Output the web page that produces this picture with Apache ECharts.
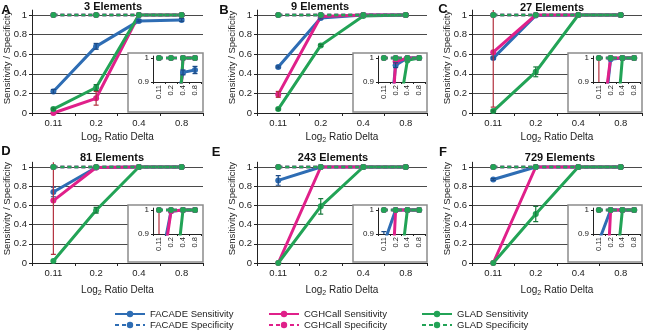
<!DOCTYPE html>
<html lang="en">
<head>
<meta charset="utf-8">
<title>Sensitivity / Specificity</title>
<script src="https://cdn.jsdelivr.net/npm/echarts@6/dist/echarts.min.js"></script>
</head>
<body style="margin:0;background:#fff;">
<div id="main" style="width:649px;height:330px;"></div>
<script type="text/javascript">
// categories and panel texts
const deltas = ['0.11', '0.2', '0.4', '0.8'];
const panelLetters = ['A', 'B', 'C', 'D', 'E', 'F'];
const panelTitles = ['3 Elements', '9 Elements', '27 Elements', '81 Elements', '243 Elements', '729 Elements'];

// sensitivity, one row per panel A..F
const facadeSens = [
    [0.22, 0.68, 0.94, 0.95],
    [0.47, 0.97, 1.0, 1.0],
    [0.56, 0.995, 1.0, 1.0],
    [0.74, 0.995, 1.0, 1.0],
    [0.86, 1.0, 1.0, 1.0],
    [0.87, 1.0, 1.0, 1.0]
];
const facadeSensErr = [
    [0.02, 0.03, 0.01, 0.015],
    [0.01, 0.01, 0, 0],
    [0.01, 0, 0, 0],
    [0.05, 0, 0, 0],
    [0.05, 0, 0, 0],
    [0.01, 0, 0, 0]
];
const cghcallSens = [
    [0.0, 0.15, 1.0, 1.0],
    [0.19, 0.985, 1.0, 1.0],
    [0.62, 1.0, 1.0, 1.0],
    [0.65, 0.995, 1.0, 1.0],
    [0.0, 1.0, 1.0, 1.0],
    [0.0, 1.0, 1.0, 1.0]
];
const cghcallSensErr = [
    [0, 0.07, 0, 0],
    [0.03, 0, 0, 0],
    [0.56, 0, 0, 0],
    [0.56, 0, 0, 0],
    [0, 0, 0, 0],
    [0, 0, 0, 0]
];
const gladSens = [
    [0.04, 0.26, 1.0, 1.0],
    [0.04, 0.69, 0.99, 1.0],
    [0.02, 0.42, 1.0, 1.0],
    [0.02, 0.55, 1.0, 1.0],
    [0.0, 0.59, 1.0, 1.0],
    [0.0, 0.51, 1.0, 1.0]
];
const gladSensErr = [
    [0.01, 0.03, 0, 0],
    [0.01, 0.01, 0, 0],
    [0.01, 0.05, 0, 0],
    [0, 0.03, 0, 0],
    [0, 0.08, 0, 0],
    [0, 0.08, 0, 0]
];

// specificity, one row per panel A..F
const facadeSpec = [
    [1, 1, 1, 1], [1, 1, 1, 1], [1, 1, 1, 1], [1, 1, 1, 1], [1, 1, 1, 1], [1, 1, 1, 1]
];
const cghcallSpec = [
    [1, 1, 1, 1], [1, 1, 1, 1], [1, 1, 1, 1], [1, 1, 1, 1], [1, 1, 1, 1], [1, 1, 1, 1]
];
const gladSpec = [
    [1, 1, 1, 1], [1, 1, 1, 1], [1, 1, 1, 1], [1, 1, 1, 1], [1, 1, 1, 1], [1, 1, 1, 1]
];

const methods = [
    {key: 'FACADE', color: '#2e6db4', errColor: '#1b4a86', sens: facadeSens, err: facadeSensErr, spec: facadeSpec},
    {key: 'CGHCall', color: '#e0208a', errColor: '#b3303e', sens: cghcallSens, err: cghcallSensErr, spec: cghcallSpec},
    {key: 'GLAD', color: '#22a356', errColor: '#17793b', sens: gladSens, err: gladSensErr, spec: gladSpec}
];

// layout of the 3x2 panels: y-axis x, right end / y of value 1, y of value 0
const cols = [[32, 203], [257, 427], [472, 642]];
const rows = [[15, 113], [167, 263]];
const letterPos = [[6, 10], [224, 10], [443, 9], [6, 151], [216, 152], [443, 152]];
const titlePos = [[113, 7], [320, 7], [552, 8], [112, 158], [333, 158], [560, 158]];

const font = 'Liberation Sans, Arial, sans-serif';

function errorBar(color) {
    return function (params, api) {
        const i = api.value(0), v = api.value(1), e = api.value(2);
        const lo = api.coord([i, v - e]);
        const hi = api.coord([i, v + e]);
        const cap = 2.5;
        const st = {stroke: color, lineWidth: 1.2};
        return {
            type: 'group',
            children: [
                {type: 'line', shape: {x1: lo[0], y1: lo[1], x2: hi[0], y2: hi[1]}, style: st},
                {type: 'line', shape: {x1: lo[0] - cap, y1: lo[1], x2: lo[0] + cap, y2: lo[1]}, style: st},
                {type: 'line', shape: {x1: hi[0] - cap, y1: hi[1], x2: hi[0] + cap, y2: hi[1]}, style: st}
            ]
        };
    };
}

const grids = [], xAxes = [], yAxes = [], series = [], graphics = [];

for (let p = 0; p < 6; p++) {
    const c = cols[p % 3];
    const r = rows[Math.floor(p / 3)];
    const h = r[1] - r[0];

    // main plot
    grids.push({left: c[0], top: r[0] - 0.05 * h, width: c[1] - c[0], height: 1.05 * h, outerBoundsMode: 'none'});
    xAxes.push({
        type: 'category', gridIndex: 2 * p, data: deltas, boundaryGap: true,
        axisLine: {lineStyle: {color: '#222', width: 1}},
        axisTick: {show: true, length: 3, lineStyle: {color: '#222'}},
        axisLabel: {fontSize: 9.5, color: '#222', margin: 5, fontFamily: font},
        name: 'Log{sub|2} Ratio Delta', nameLocation: 'middle', nameGap: p < 3 ? 17 : 20,
        nameMoveOverlap: false,
        nameTextStyle: {fontSize: 10, color: '#222', fontFamily: font, lineHeight: 12,
            rich: {sub: {fontSize: 7, lineHeight: 14, verticalAlign: 'bottom', fontFamily: font, color: '#222'}}}
    });
    yAxes.push({
        type: 'value', gridIndex: 2 * p, min: 0, max: 1.05, interval: 0.2,
        axisLine: {show: true, lineStyle: {color: '#222', width: 1}},
        axisTick: {show: true, length: 3, lineStyle: {color: '#222'}},
        axisLabel: {fontSize: 9.5, color: '#222', margin: 5, fontFamily: font, showMaxLabel: false,
            formatter: v => (v > 1.001 ? '' : String(+v.toFixed(2)))},
        splitLine: {show: true, showMaxLine: false, lineStyle: {color: '#4a4a4a', width: 1}},
        name: 'Sensitivity / Specificity', nameLocation: 'middle', nameGap: 20,
        nameMoveOverlap: false,
        nameTextStyle: {fontSize: 9.5, color: '#222', fontFamily: font, padding: [0, 0, 0, 8]}
    });

    // inset (zoom 0.9 - 1)
    grids.push({left: c[0] + 121, top: r[0] + 43 - 1.92, width: c[1] - c[0] - 123, height: 25.92, outerBoundsMode: 'none'});
    xAxes.push({
        type: 'category', gridIndex: 2 * p + 1, data: deltas, boundaryGap: true, z: 9,
        axisLine: {lineStyle: {color: '#222', width: 1}},
        axisTick: {show: true, length: 2, lineStyle: {color: '#222'}},
        axisLabel: {fontSize: 7.5, color: '#222', margin: 3, rotate: 90, fontFamily: font, interval: 0}
    });
    yAxes.push({
        type: 'value', gridIndex: 2 * p + 1, min: 0.9, max: 1.008, interval: 0.1, z: 9,
        axisLine: {show: true, lineStyle: {color: '#222', width: 1}},
        axisTick: {show: true, length: 2, lineStyle: {color: '#222'}},
        axisLabel: {fontSize: 8, color: '#222', margin: 4, fontFamily: font, showMaxLabel: false,
            formatter: v => (v > 1.001 ? '' : String(+v.toFixed(2)))},
        splitLine: {show: false}
    });

    // inset frame, panel letter and title
    graphics.push({
        type: 'rect', z: 8,
        shape: {x: c[0] + 96, y: r[0] + 38, width: c[1] - c[0] - 96, height: h - 39},
        style: {fill: '#fff', stroke: '#8c8c8c', lineWidth: 1.5}
    });
    graphics.push({
        type: 'text', z: 20, x: letterPos[p][0], y: letterPos[p][1],
        style: {text: panelLetters[p], font: 'bold 13px ' + font, fill: '#111',
            align: 'center', verticalAlign: 'middle', textAlign: 'center', textVerticalAlign: 'middle'}
    });
    graphics.push({
        type: 'text', z: 20, x: titlePos[p][0], y: titlePos[p][1],
        style: {text: panelTitles[p], font: 'bold 11px ' + font, fill: '#111',
            align: 'center', verticalAlign: 'middle', textAlign: 'center', textVerticalAlign: 'middle'}
    });

    [2 * p, 2 * p + 1].forEach((g, k) => {
        const zb = k === 0 ? 2 : 10;
        methods.forEach(m => {
            series.push({
                name: m.key + ' Sensitivity', type: 'line', xAxisIndex: g, yAxisIndex: g,
                data: m.sens[p], symbol: 'circle', symbolSize: 6, clip: true, z: zb,
                itemStyle: {color: m.color},
                lineStyle: {color: m.color, width: 3}
            });
        });
        methods.forEach(m => {
            series.push({
                name: m.key + ' Err', type: 'custom', xAxisIndex: g, yAxisIndex: g, clip: true, z: zb + 1,
                renderItem: errorBar(m.errColor),
                encode: {x: 0, y: 1},
                data: deltas.map((d, i) => [i, m.sens[p][i], m.err[p][i]]).filter(e => e[2] > 0)
            });
        });
        methods.forEach(m => {
            series.push({
                name: m.key + ' Specificity', type: 'line', xAxisIndex: g, yAxisIndex: g,
                data: m.spec[p], symbol: 'circle', symbolSize: 6, clip: true, z: zb + 2,
                itemStyle: {color: m.color},
                lineStyle: {color: m.color, width: 2.5, type: [4, 3]}
            });
        });
    });
}

const legendBase = {
    orient: 'vertical', bottom: 0, itemWidth: 30, itemHeight: 8, itemGap: 1, padding: 0,
    selectedMode: false,
    textStyle: {fontSize: 9.5, color: '#222', fontFamily: font}
};
const legends = [114, 268, 421].map((x, i) => Object.assign({}, legendBase, {
    left: x,
    data: [methods[i].key + ' Sensitivity', methods[i].key + ' Specificity']
}));

const myChart = echarts.init(document.getElementById('main'));
const option = {
    animation: false,
    backgroundColor: '#fff',
    textStyle: {fontFamily: font},
    grid: grids,
    xAxis: xAxes,
    yAxis: yAxes,
    legend: legends,
    graphic: {elements: graphics},
    series: series
};
myChart.setOption(option);
</script>
</body>
</html>
